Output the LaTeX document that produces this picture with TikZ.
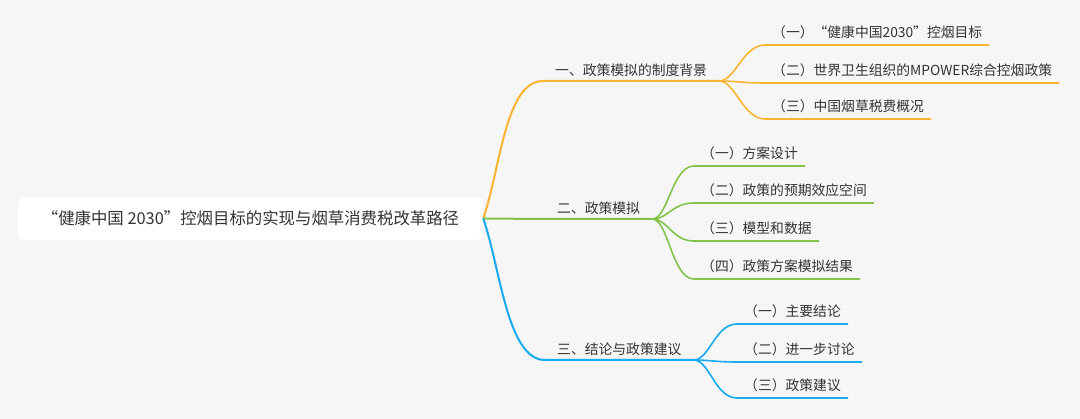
\documentclass[tikz,border=0pt]{standalone}
\usepackage{fontspec}
\newfontfamily\cjk{Noto Sans CJK SC}
\usetikzlibrary{calc}
\definecolor{bg}{RGB}{246,246,247}
\definecolor{txt}{RGB}{51,51,51}
\definecolor{corange}{RGB}{250,180,50}
\definecolor{cgreen}{RGB}{130,195,75}
\definecolor{cblue}{RGB}{25,170,240}
\begin{document}
\begin{tikzpicture}[x=1pt,y=-1pt,
  root/.style={fill=white, rounded corners=6pt, minimum width=465pt, minimum height=43pt, inner sep=0pt, text=txt, font=\cjk\fontsize{16.4}{19}\selectfont},
  topic/.style={anchor=south west, inner xsep=7pt, inner ysep=4pt, text height=11pt, text depth=3pt, text=txt, font=\cjk\fontsize{13.8}{16}\selectfont},
  branch/.style={topic, inner xsep=12pt, inner ysep=2pt},
  thick1/.style={line width=2pt},
  thin1/.style={line width=1.6pt}]
\fill[bg] (0,0) rectangle (1080,419);
\useasboundingbox (0,0) rectangle (1080,419);
\node[root] (r) at (250.5,218.5) {“健康中国 2030”控烟目标的实现与烟草消费税改革路径};
% branches
\node[branch] (b1) at (543,81) {一、政策模拟的制度背景};
\node[branch] (b2) at (545,219) {二、政策模拟};
\node[branch] (b3) at (545,360) {三、结论与政策建议};
% orange children
\node[topic] (a1) at (765,45) {（一）“健康中国2030”控烟目标};
\node[topic] (a2) at (765,83) {（二）世界卫生组织的MPOWER综合控烟政策};
\node[topic] (a3) at (765,119) {（三）中国烟草税费概况};
% green children
\node[topic] (g1) at (694,166) {（一）方案设计};
\node[topic] (g2) at (694,203) {（二）政策的预期效应空间};
\node[topic] (g3) at (694,241) {（三）模型和数据};
\node[topic] (g4) at (694,279) {（四）政策方案模拟结果};
% blue children
\node[topic] (c1) at (737,324) {（一）主要结论};
\node[topic] (c2) at (737,362) {（二）进一步讨论};
\node[topic] (c3) at (737,398) {（三）政策建议};
% root to branches
\draw[corange, thick1] (r.east) .. controls +(17,-48) and +(-38,0) .. (b1.south west) -- (b1.south east);
\draw[cgreen, thick1] (r.east) .. controls +(27,0) and +(-30,0) .. (b2.south west) -- (b2.south east);
\draw[cblue, thick1] (r.east) .. controls +(17,48) and +(-38,0) .. (b3.south west) -- (b3.south east);
% branch to children
\foreach \n in {a1,a2,a3}
  \draw[corange, thin1] (b1.south east) .. controls +(16,0) and +(-22,0) .. (\n.south west) -- (\n.south east);
\foreach \n in {g1,g2,g3,g4}
  \draw[cgreen, thin1] (b2.south east) .. controls +(16,0) and +(-22,0) .. (\n.south west) -- (\n.south east);
\foreach \n in {c1,c2,c3}
  \draw[cblue, thin1] (b3.south east) .. controls +(16,0) and +(-22,0) .. (\n.south west) -- (\n.south east);
\end{tikzpicture}
\end{document}
